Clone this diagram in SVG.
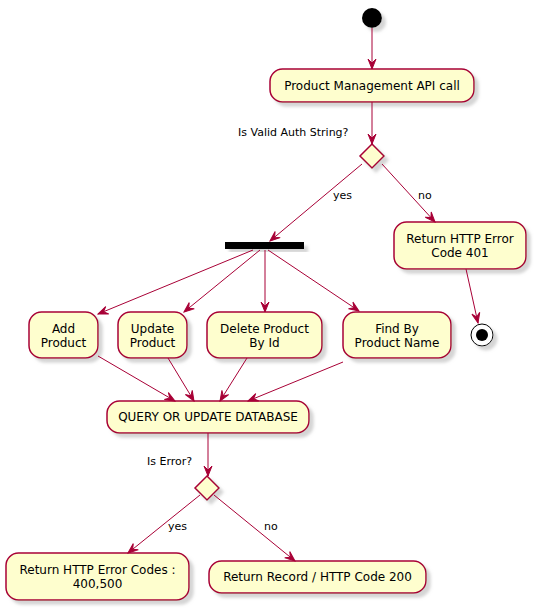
<svg xmlns="http://www.w3.org/2000/svg" width="536" height="610" viewBox="0 0 536 610">
<defs>
<filter id="sh" x="-20%" y="-20%" width="150%" height="160%">
<feGaussianBlur in="SourceAlpha" stdDeviation="1.8" result="b"/>
<feColorMatrix in="b" type="matrix" values="0 0 0 0 0.45  0 0 0 0 0.45  0 0 0 0 0.45  0 0 0 0.55 0" result="c"/>
<feOffset in="c" dx="4" dy="4" result="o"/>
<feMerge><feMergeNode in="o"/><feMergeNode in="SourceGraphic"/></feMerge>
</filter>
<marker id="ah" markerUnits="userSpaceOnUse" markerWidth="12" markerHeight="10" viewBox="-11 -5 12 10" refX="0" refY="0" orient="auto">
<path d="M0,0 L-10,-4 L-6,0 L-10,4 Z" fill="#A80036" stroke="#A80036" stroke-width="1"/>
</marker>
</defs>
<style>
.act{fill:#FEFECE;stroke:#A80036;stroke-width:1.5;filter:url(#sh)}
.t{font-family:"DejaVu Sans","Liberation Sans",sans-serif;font-size:12px;fill:#000;text-anchor:middle}
.l{font-family:"DejaVu Sans","Liberation Sans",sans-serif;font-size:11px;fill:#000}
.c{stroke:#A80036;stroke-width:1;fill:none;marker-end:url(#ah)}
</style>
<rect width="536" height="610" fill="#FFFFFF"/>
<g id="start"><circle cx="372" cy="18" r="10" fill="#000" filter="url(#sh)"/></g>
<g id="api"><rect class="act" x="270" y="69" width="204" height="33" rx="12.5"/><text class="t" x="372" y="90">Product Management API call</text></g>
<g id="auth"><polygon class="act" points="372,144 384,156 372,168 360,156"/><text class="l" x="238" y="136">Is Valid Auth String?</text></g>
<g id="fork"><rect x="225" y="242" width="79" height="7" fill="#000" filter="url(#sh)"/></g>
<g id="err401"><rect class="act" x="394" y="222" width="132" height="47" rx="12.5"/><text class="t" x="460" y="243">Return HTTP Error</text><text class="t" x="460" y="257">Code 401</text></g>
<g id="end"><circle cx="482" cy="335" r="11" fill="#FFFFFF" stroke="#000" stroke-width="1" filter="url(#sh)"/><circle cx="482" cy="335" r="6" fill="#000"/></g>
<g id="add"><rect class="act" x="29" y="312" width="69" height="46" rx="12.5"/><text class="t" x="63.5" y="333">Add</text><text class="t" x="63.5" y="347">Product</text></g>
<g id="update"><rect class="act" x="118" y="312" width="69" height="46" rx="12.5"/><text class="t" x="152.5" y="333">Update</text><text class="t" x="152.5" y="347">Product</text></g>
<g id="delete"><rect class="act" x="207" y="312" width="115" height="46" rx="12.5"/><text class="t" x="264.5" y="333">Delete Product</text><text class="t" x="264.5" y="347">By Id</text></g>
<g id="find"><rect class="act" x="343" y="312" width="108" height="46" rx="12.5"/><text class="t" x="397" y="333">Find By</text><text class="t" x="397" y="347">Product Name</text></g>
<g id="query"><rect class="act" x="107" y="401" width="202" height="32" rx="12.5"/><text class="t" x="208" y="421">QUERY OR UPDATE DATABASE</text></g>
<g id="iserr"><polygon class="act" points="207,476 219,488 207,500 195,488"/><text class="l" x="147" y="465">Is Error?</text></g>
<g id="errcodes"><rect class="act" x="6" y="553" width="183" height="47" rx="12.5"/><text class="t" x="97.5" y="574">Return HTTP Error Codes :</text><text class="t" x="97.5" y="588">400,500</text></g>
<g id="ok"><rect class="act" x="209" y="561" width="217" height="32" rx="12.5"/><text class="t" x="317.5" y="581">Return Record / HTTP Code 200</text></g>
<g id="connectors">
<line class="c" x1="372" y1="28" x2="372" y2="69"/>
<line class="c" x1="372" y1="102" x2="372" y2="144"/>
<line class="c" x1="362" y1="164" x2="270" y2="241"/>
<line class="c" x1="382" y1="164" x2="435" y2="222"/>
<line class="c" x1="466" y1="269" x2="478" y2="323"/>
<line class="c" x1="253" y1="250" x2="98" y2="314"/>
<line class="c" x1="260" y1="250" x2="184" y2="312"/>
<line class="c" x1="265" y1="250" x2="265" y2="312"/>
<line class="c" x1="268" y1="250" x2="359" y2="311"/>
<line class="c" x1="98" y1="356" x2="175" y2="401"/>
<line class="c" x1="168" y1="358" x2="194" y2="401"/>
<line class="c" x1="247" y1="358" x2="220" y2="401"/>
<line class="c" x1="343" y1="362" x2="248" y2="401"/>
<line class="c" x1="208" y1="433" x2="208" y2="476"/>
<line class="c" x1="200" y1="495" x2="128" y2="553"/>
<line class="c" x1="214" y1="495" x2="295" y2="561"/>
<text class="l" x="333" y="199">yes</text>
<text class="l" x="418" y="199">no</text>
<text class="l" x="168" y="530">yes</text>
<text class="l" x="264" y="530">no</text>
</g>
</svg>
